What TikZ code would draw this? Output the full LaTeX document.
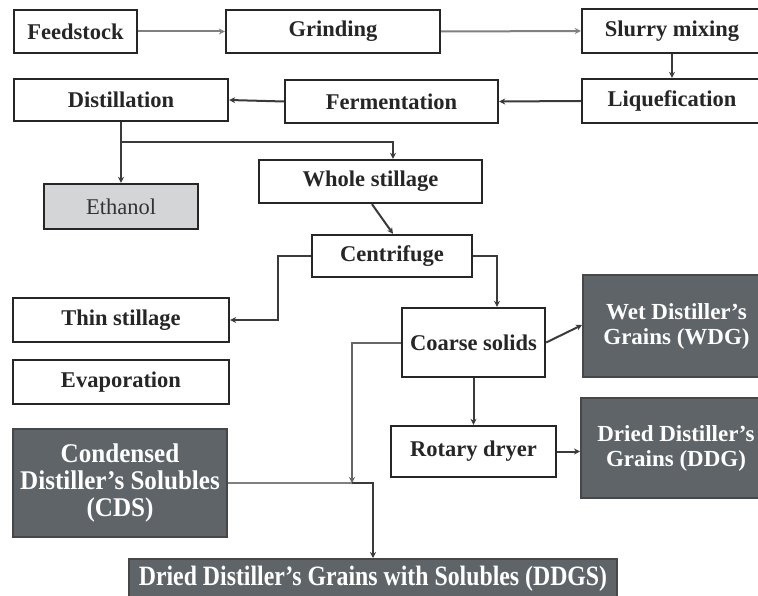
\documentclass[tikz,border=0pt]{standalone}
\usepackage{fontspec}
\setmainfont{Liberation Serif}
\newfontfamily\condfont[FakeStretch=0.85]{Liberation Serif}
\newfontfamily\semicond[FakeStretch=0.93]{Liberation Serif}
\usetikzlibrary{arrows.meta}
\definecolor{dk}{HTML}{5E6467}
\definecolor{lt}{HTML}{D4D5D7}
\definecolor{edge}{HTML}{262626}
\definecolor{ln}{HTML}{3A3A3A}
\definecolor{lg}{HTML}{808080}
\begin{document}
\begin{tikzpicture}[x=1pt,y=-1pt,
  box/.style={draw=edge, line width=2.4pt, fill=white, inner sep=0pt,
    font=\fontsize{22.5}{24}\selectfont\bfseries, text=black!85},
  ebox/.style={draw=edge, line width=2.4pt, fill=lt, inner sep=0pt,
    font=\fontsize{22.5}{24}\selectfont, text=black!80},
  dbox/.style={draw=edge!85, line width=2pt, fill=dk, inner sep=0pt, text=white,
    align=center, font=\fontsize{23}{25}\selectfont\bfseries},
  arr/.style={draw=ln, line width=2pt, -{Stealth[length=6pt,width=6pt]}},
  garr/.style={draw=lg, line width=2pt, -{Stealth[length=6pt,width=6pt]}}]
\useasboundingbox (0,0) rectangle (758,596);
\clip (0,0) rectangle (758,596);
\fill[white] (0,0) rectangle (758,596);
% boxes
\node[box, minimum width=123pt, minimum height=43pt] (feed) at (75.5,31.5) {Feedstock};
\node[box, minimum width=214pt, minimum height=43pt] (grind) at (333,31.5) {Grinding};
\node[box, minimum width=180pt, minimum height=44pt] (slurry) at (672,31) {Slurry mixing};
\node[box, minimum width=180pt, minimum height=44pt] (liq) at (672,101) {Liquefication};
\node[box, minimum width=213pt, minimum height=43pt] (ferm) at (391.5,101.5) {Fermentation};
\node[box, minimum width=214pt, minimum height=42pt] (dist) at (121,100) {Distillation};
\node[ebox, minimum width=154pt, minimum height=45pt] (eth) at (121,206.5) {Ethanol};
\node[box, minimum width=223pt, minimum height=43pt] (whole) at (370.5,181.5) {Whole stillage};
\node[box, minimum width=160pt, minimum height=42pt] (cent) at (392,256) {Centrifuge};
\node[box, minimum width=216pt, minimum height=44pt] (thin) at (121,320) {Thin stillage};
\node[box, minimum width=216pt, minimum height=44pt] (evap) at (121,382) {Evaporation};
\node[box, minimum width=143pt, minimum height=69pt] (coarse) at (473.5,342.5) {Coarse solids};
\node[dbox, minimum width=187pt, minimum height=102pt] (wdg) at (676.5,326) {Wet Distiller’s\\Grains (WDG)};
\node[box, minimum width=165pt, minimum height=51pt] (rot) at (473.5,451.5) {Rotary dryer};
\node[dbox, minimum width=190pt, minimum height=100pt] (ddg) at (676,448) {Dried Distiller’s\\Grains (DDG)};
\node[dbox, minimum width=214pt, minimum height=108pt, font=\fontsize{27}{27}\selectfont\semicond\bfseries] (cds) at (120,483) {Condensed\\Distiller’s Solubles\\(CDS)};
\node[dbox, minimum width=488pt, minimum height=40pt, font=\fontsize{28}{30}\selectfont\condfont\bfseries] (ddgs) at (373,579) {Dried Distiller’s Grains with Solubles (DDGS)};
% junctions
\coordinate (j1) at (121,142);
\coordinate (j2) at (352,483);
% connectors
\draw[garr] (feed.east) -- (grind.west);
\draw[garr] (grind.east) -- (slurry.west);
\draw[arr] (slurry.south) -- (liq.north);
\draw[arr] (liq.west) -- (ferm.east);
\draw[arr] (ferm.west) -- (dist.east);
\draw[arr] (dist.south) -- (eth.north);
\draw[arr] (j1) -| ([xshift=22.5pt]whole.north);
\draw[arr] ([xshift=1.5pt]whole.south) -- ([xshift=1pt]cent.north);
\draw[arr] (cent.west) -- ++(-33,0) |- (thin.east);
\draw[arr] (cent.east) -| ([xshift=23.5pt]coarse.north);
\draw[arr] (coarse.east) -- ([yshift=1pt]wdg.west);
\draw[arr] (coarse.south) -- (rot.north);
\draw[arr] (rot.east) -- (rot.east -| ddg.west);
\draw[arr, draw=black!60] (coarse.west) -| (j2);
\draw[draw=lg, line width=1.4pt] (cds.east) -- (j2);
\draw[arr] (j2) -| (ddgs.north);
\end{tikzpicture}
\end{document}
